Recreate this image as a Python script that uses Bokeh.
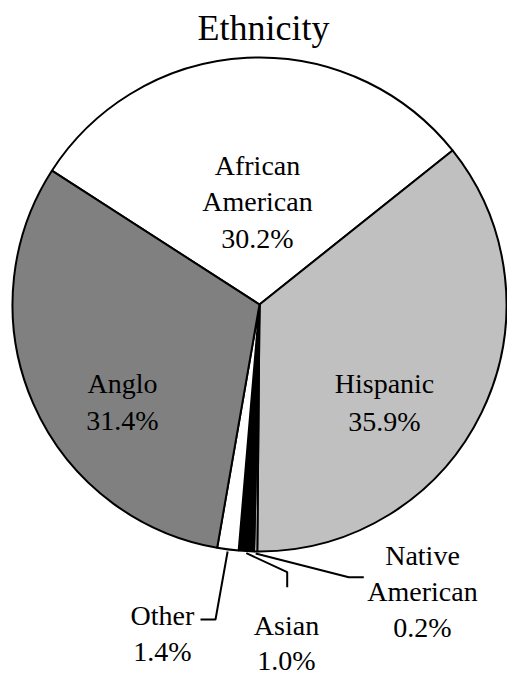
import math
from bokeh.plotting import figure
from bokeh.models import Range1d, Label
from bokeh.embed import file_html
from bokeh.resources import INLINE

# ---- data ----
categories = ["African American", "Hispanic", "Native American", "Asian", "Other", "Anglo"]
percents = [30.2, 35.9, 0.2, 1.0, 1.4, 31.4]
fills = ["#FFFFFF", "#C0C0C0", "#FFFFFF", "#000000", "#FFFFFF", "#808080"]
label_lines = [["African", "American", "30.2%"], ["Hispanic", "35.9%"],
               ["Native", "American", "0.2%"], ["Asian", "1.0%"], ["Other", "1.4%"],
               ["Anglo", "31.4%"]]
title_text = "Ethnicity"

# ---- layout (page pixel coordinates) ----
W, H = 507, 677
def Y(page_y):
    return H - page_y

CX, CY = 259, Y(304)
R = 247
START = 147.2  # degrees, slices go clockwise from here
FONT = "Times New Roman"
LABEL_SIZE = 28
TITLE_SIZE = 36
BASE_FIX = -10.5 / 28.0  # empirical baseline correction per px of font size

label_pos = {
    "African American": (257, 175.0, 36.8),
    "Hispanic": (384, 393.3, 37.7),
    "Native American": (422, 565.0, 36.2),
    "Asian": (286, 636.0, 34.5),
    "Other": (162, 625.0, 36.7),
    "Anglo": (122, 393.3, 37.4),
}
leaders = {
    "Other": [(215.0, 619.0), (200.0, 619.0)],
    "Asian": [(286.7, 571.7), (286.7, 586.7)],
    "Native American": [(348.3, 576.7), (363.3, 576.7)],
}

total = sum(percents)
starts, ends, mids = [], [], []
cum = 0.0
for v in percents:
    a0 = START - 360.0 * cum / total
    cum += v
    a1 = START - 360.0 * cum / total
    starts.append(math.radians(a1))
    ends.append(math.radians(a0))
    mids.append(math.radians((a0 + a1) / 2))

p = figure(width=W, height=H, output_backend="svg", toolbar_location=None,
           x_range=Range1d(0, W), y_range=Range1d(0, H),
           min_border=0, outline_line_color=None)
p.axis.visible = False
p.grid.visible = False

for i in range(len(categories)):
    p.wedge(x=[CX], y=[CY], radius=R, start_angle=starts[i], end_angle=ends[i],
            fill_color=fills[i], line_color="black", line_width=2)

for cat, pts in leaders.items():
    i = categories.index(cat)
    sx = CX + (R + 2) * math.cos(mids[i])
    sy = CY + (R + 2) * math.sin(mids[i])
    xs = [sx] + [q[0] for q in pts]
    ys = [sy] + [Y(q[1]) for q in pts]
    p.line(xs, ys, line_color="black", line_width=2)

p.add_layout(Label(x=263, y=round(Y(40.7 + BASE_FIX * TITLE_SIZE)), text=title_text,
                   text_font=FONT, text_font_size=f"{TITLE_SIZE}px",
                   text_baseline="alphabetic", text_align="center", text_color="black"))

for cat, lines in zip(categories, label_lines):
    x0, y0, dy = label_pos[cat]
    for k, ln in enumerate(lines):
        p.add_layout(Label(x=x0, y=round(Y(y0 + k * dy + BASE_FIX * LABEL_SIZE)), text=ln,
                           text_font=FONT, text_font_size=f"{LABEL_SIZE}px",
                           text_baseline="alphabetic", text_align="center",
                           text_color="black"))

open("out.html", "w").write(file_html(p, INLINE))
